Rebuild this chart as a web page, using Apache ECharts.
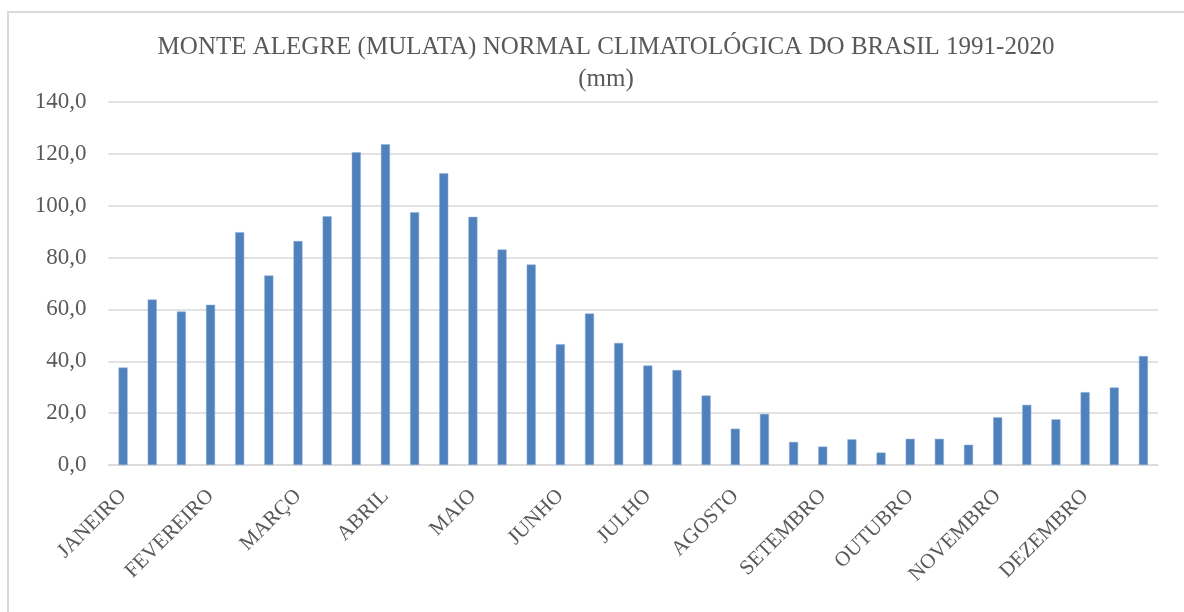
<!DOCTYPE html>
<html>
<head>
<meta charset="utf-8">
<script src="https://cdn.jsdelivr.net/npm/echarts@6/dist/echarts.min.js"></script>
<style>
  html, body { margin: 0; padding: 0; background: #fff; }
  #chart { width: 1184px; height: 612px; }
</style>
</head>
<body>
<div id="chart"></div>
<script>
// three dekads per month, one label per month
const months = ['JANEIRO', 'FEVEREIRO', 'MARÇO', 'ABRIL', 'MAIO', 'JUNHO',
  'JULHO', 'AGOSTO', 'SETEMBRO', 'OUTUBRO', 'NOVEMBRO', 'DEZEMBRO']
const dekadLabels = []
months.forEach(m => { dekadLabels.push(m, '', '') })

const chuva = [
  37.6, 63.8, 59.2, 61.8, 89.8, 73.1, 86.4, 95.9, 120.6, 123.7, 97.5, 112.5,
  95.7, 83.1, 77.3, 46.6, 58.4, 47.1, 38.4, 36.6, 26.8, 14.0, 19.7, 8.9,
  7.1, 9.9, 4.8, 10.1, 10.1, 7.8, 18.4, 23.2, 17.6, 28.1, 29.9, 42.0
]

const yTicks = { min: 0, max: 140, interval: 20 }

const fonte = '"Liberation Serif", "DejaVu Serif", serif'
const cinza = '#595959'

const chart = echarts.init(document.getElementById('chart'))
chart.setOption({
  animation: false,
  backgroundColor: '#fff',
  title: {
    text: 'MONTE ALEGRE (MULATA) NORMAL CLIMATOLÓGICA DO BRASIL 1991-2020\n(mm)',
    left: 601,
    top: 26,
    textAlign: 'center',
    textStyle: {
      fontFamily: fonte,
      fontWeight: 'normal',
      fontSize: 25,
      color: cinza,
      lineHeight: 32
    }
  },
  graphic: [{
    type: 'rect',
    shape: { x: 8, y: 12, width: 1300, height: 800 },
    style: { fill: 'none', stroke: '#d9d9d9', lineWidth: 2 },
    z: -1
  }],
  grid: {
    left: 108.5,
    right: 26,
    top: 102,
    bottom: 147
  },
  xAxis: {
    type: 'category',
    data: dekadLabels,
    axisLine: { lineStyle: { color: '#d9d9d9', width: 1.5 } },
    axisTick: { show: false },
    axisLabel: {
      interval: 2,
      rotate: 45,
      margin: 28,
      fontFamily: fonte,
      fontSize: 21,
      color: cinza
    }
  },
  yAxis: {
    type: 'value',
    min: yTicks.min,
    max: yTicks.max,
    interval: yTicks.interval,
    axisLine: { show: false },
    axisTick: { show: false },
    splitLine: { lineStyle: { color: '#d9d9d9', width: 1.5 } },
    axisLabel: {
      margin: 22,
      fontFamily: fonte,
      fontSize: 23,
      color: cinza,
      formatter: v => v.toFixed(1).replace('.', ',')
    }
  },
  series: [{
    type: 'bar',
    data: chuva,
    barWidth: '31%',
    itemStyle: { color: '#4f81bd', borderColor: '#8eaedb', borderWidth: 0.5 }
  }]
})
</script>
</body>
</html>
